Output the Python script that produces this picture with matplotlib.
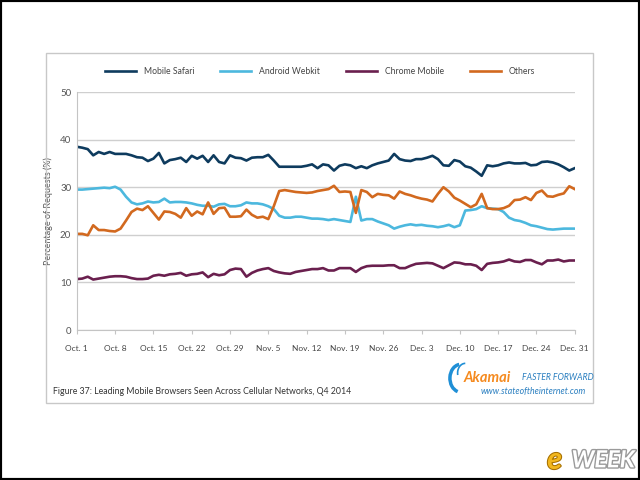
import numpy as np
import matplotlib
matplotlib.use('Agg')
import matplotlib.pyplot as plt
import matplotlib.patches as patches
import matplotlib.patheffects as pe

# daily values, Oct 1 .. Dec 31 2014
mobile_safari = [38.5, 38.3, 38.0, 36.7, 37.4, 37.0, 37.4, 37.0, 37.0, 37.0,
                 36.7, 36.3, 36.2, 35.5, 36.0, 37.2, 35.0, 35.7, 35.9, 36.2,
                 35.3, 36.6, 36.0, 36.6, 35.3, 36.7, 35.3, 35.0, 36.7, 36.2,
                 36.1, 35.6, 36.2, 36.3, 36.3, 36.8, 35.6, 34.3, 34.3, 34.3,
                 34.3, 34.3, 34.5, 34.8, 34.0, 34.8, 34.6, 33.5, 34.5, 34.8,
                 34.6, 34.0, 34.4, 34.0, 34.6, 35.0, 35.3, 35.6, 37.0, 35.9,
                 35.6, 35.5, 35.9, 35.9, 36.2, 36.6, 35.9, 34.6, 34.5, 35.7,
                 35.4, 34.4, 34.1, 33.3, 32.4, 34.6, 34.4, 34.6, 35.0, 35.2,
                 35.0, 35.0, 35.1, 34.6, 34.7, 35.3, 35.4, 35.2, 34.8, 34.2,
                 33.5, 34.0]
android_webkit = [29.5, 29.5, 29.6, 29.7, 29.8, 29.9, 29.8, 30.1, 29.5, 28.0,
                  26.8, 26.4, 26.6, 27.0, 26.8, 26.9, 27.6, 26.8, 26.9, 26.9,
                  26.8, 26.6, 26.3, 26.1, 26.1, 25.9, 26.4, 26.5, 26.0, 26.0,
                  26.2, 26.8, 26.6, 26.6, 26.4, 26.0, 25.4, 24.0, 23.6, 23.6,
                  23.8, 23.8, 23.6, 23.4, 23.4, 23.3, 23.1, 23.3, 23.1, 22.9,
                  22.7, 28.0, 23.0, 23.3, 23.3, 22.8, 22.4, 22.0, 21.3, 21.7,
                  22.0, 22.2, 22.0, 22.1, 21.9, 21.8, 21.6, 21.8, 22.1, 21.6,
                  22.0, 25.1, 25.2, 25.4, 26.0, 25.6, 25.5, 25.4, 24.8, 23.6,
                  23.1, 22.9, 22.5, 22.0, 21.8, 21.5, 21.2, 21.1, 21.2, 21.3,
                  21.3, 21.3]
chrome_mobile = [10.7, 10.8, 11.2, 10.6, 10.8, 11.0, 11.2, 11.3, 11.3, 11.2,
                 10.9, 10.7, 10.7, 10.8, 11.4, 11.6, 11.4, 11.7, 11.8, 12.0,
                 11.4, 11.7, 11.8, 12.1, 11.1, 11.8, 11.5, 11.7, 12.6, 12.9,
                 12.8, 11.2, 12.0, 12.5, 12.8, 13.0, 12.4, 12.1, 11.9, 11.8,
                 12.2, 12.4, 12.6, 12.8, 12.8, 13.0, 12.5, 12.5, 13.0, 13.0,
                 13.0, 12.2, 13.0, 13.4, 13.5, 13.5, 13.5, 13.6, 13.6, 13.0,
                 13.0, 13.5, 13.9, 14.0, 14.1, 14.0, 13.5, 13.0, 13.6, 14.2,
                 14.1, 13.8, 13.8, 13.5, 12.6, 13.9, 14.1, 14.2, 14.4, 14.8,
                 14.4, 14.3, 14.7, 14.7, 14.2, 13.8, 14.6, 14.6, 14.8, 14.4,
                 14.6, 14.6]
others = [20.2, 20.2, 19.9, 22.0, 21.0, 21.0, 20.8, 20.7, 21.3, 23.0,
          24.8, 25.5, 25.2, 26.0, 24.6, 23.2, 24.9, 24.8, 24.4, 23.6,
          25.6, 24.0, 24.9, 24.3, 26.8, 24.4, 25.6, 25.7, 23.8, 23.8,
          23.9, 25.3, 24.2, 23.6, 23.8, 23.3, 26.0, 29.2, 29.4, 29.2,
          29.0, 28.9, 28.8, 28.9, 29.2, 29.4, 29.6, 30.3, 29.0, 29.1,
          29.0, 24.6, 29.4, 29.0, 27.9, 28.6, 28.4, 28.3, 27.6, 29.1,
          28.6, 28.3, 27.9, 27.6, 27.4, 27.0, 28.6, 30.0, 29.1, 27.8,
          27.2, 26.5, 25.8, 26.4, 28.6, 25.6, 25.4, 25.4, 25.6, 26.1,
          27.3, 27.4, 27.9, 27.3, 28.8, 29.3, 28.1, 28.0, 28.4, 28.7,
          30.2, 29.6]

tick_labels = ['Oct. 1', 'Oct. 8', 'Oct. 15', 'Oct. 22', 'Oct. 29', 'Nov. 5',
               'Nov. 12', 'Nov. 19', 'Nov. 26', 'Dec. 3', 'Dec. 10', 'Dec. 17',
               'Dec. 24', 'Dec. 31']

series = [('Mobile Safari', mobile_safari, '#0e3b5e'),
          ('Android Webkit', android_webkit, '#4cb8de'),
          ('Chrome Mobile', chrome_mobile, '#6a1f4e'),
          ('Others', others, '#d2691f')]

plt.rcParams['font.family'] = ['Lato', 'DejaVu Sans']

fig = plt.figure(figsize=(6.4, 4.8), dpi=100)
fig.patch.set_facecolor('white')

# outer black frame and the white card
fig.patches.append(patches.Rectangle((0, 0), 1, 1, transform=fig.transFigure,
                                     fill=False, edgecolor='black', linewidth=3))
fig.patches.append(patches.Rectangle((0.072, 0.160), 0.855, 0.730, transform=fig.transFigure,
                                     fill=False, edgecolor='#c8c8c8', linewidth=1))

ax = fig.add_axes([0.120, 0.3125, 0.778, 0.4958])

days = np.arange(len(mobile_safari))
for name, vals, col in series:
    ax.plot(days, vals, color=col, linewidth=1.9, label=name, solid_joinstyle='round')

ax.set_ylim(0, 50)
ax.set_xlim(0, len(days) - 1)
ax.set_yticks([0, 10, 20, 30, 40, 50])
ax.set_xticks(np.arange(0, len(days), 7))
ax.set_xticklabels(tick_labels)
ax.yaxis.grid(True, color='#cfcfcf', linewidth=1)
ax.set_axisbelow(True)
for s in ['top', 'right']:
    ax.spines[s].set_visible(False)
ax.spines['left'].set_color('#c4c4c4')
ax.spines['bottom'].set_color('#c4c4c4')
ax.tick_params(axis='y', length=0, labelsize=7, labelcolor='#555555', pad=4)
ax.tick_params(axis='x', length=3, color='#c4c4c4', labelsize=6, labelcolor='#444444', pad=8)
ax.set_ylabel('Percentage of Requests (%)', fontsize=6.5, color='#555555', labelpad=5)

fig.legend(loc='center', bbox_to_anchor=(0.5, 0.85), ncol=4, frameon=False,
           fontsize=6.2, handlelength=3.6, columnspacing=3.0, handletextpad=0.9,
           labelcolor='#444444')

fig.text(0.083, 0.185, 'Figure 37: Leading Mobile Browsers Seen Across Cellular Networks, Q4 2014',
         fontsize=6.3, color='#333333', va='center')

# akamai logo
fig.patches.append(patches.Arc((0.720, 0.212), 0.034, 0.058, theta1=95, theta2=260,
                               transform=fig.transFigure, color='#1f8fd6', linewidth=2.5))
fig.patches.append(patches.Arc((0.727, 0.223), 0.024, 0.040, theta1=90, theta2=200,
                               transform=fig.transFigure, color='#1f8fd6', linewidth=1.2))
fig.text(0.724, 0.213, 'Akamai', fontsize=10.5, fontweight='bold', style='italic',
         color='#f58a1f', va='center')
fig.text(0.816, 0.213, 'FASTER FORWARD', fontsize=6.2, style='italic',
         color='#2a7fc0', va='center')
fig.text(0.916, 0.184, 'www.stateoftheinternet.com', fontsize=6.3, style='italic',
         color='#2a7fc0', va='center', ha='right')

# eWEEK badge
t = fig.text(0.855, 0.042, 'e', fontsize=22, fontweight='bold', style='italic',
             color='#f2b71e', va='center')
t.set_path_effects([pe.withStroke(linewidth=1.5, foreground='#a66f00')])
t2 = fig.text(0.893, 0.042, 'WEEK', fontsize=17, fontweight='bold', style='italic',
              color='white', va='center')
t2.set_path_effects([pe.withStroke(linewidth=2, foreground='#9a9a9a')])

fig.savefig('out.png', dpi=100)
